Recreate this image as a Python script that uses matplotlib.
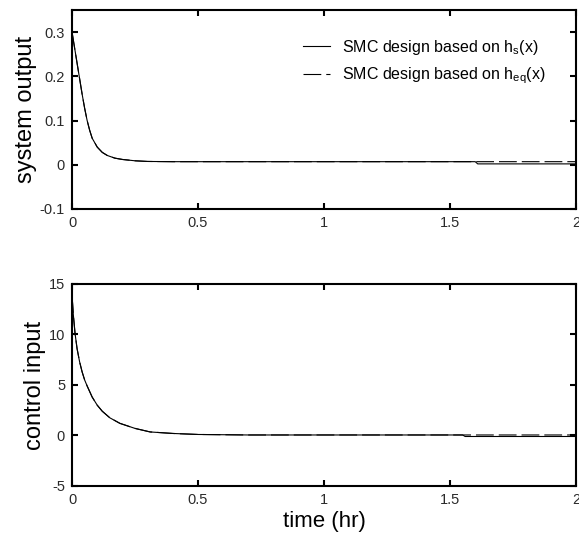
import matplotlib
matplotlib.use("Agg")
import matplotlib.pyplot as plt

plt.rcParams["font.family"] = ["Liberation Sans", "DejaVu Sans"]
plt.rcParams["axes.unicode_minus"] = False

# system output
t_out = [0, 0.01, 0.02, 0.03, 0.04, 0.05, 0.06, 0.07, 0.08, 0.10, 0.12, 0.14,
         0.17, 0.20, 0.25, 0.30, 0.40, 0.60, 1.00, 1.60, 1.61, 2.00]
y_out_hs = [0.30, 0.265, 0.23, 0.195, 0.16, 0.128, 0.10, 0.078, 0.06, 0.04,
            0.028, 0.021, 0.015, 0.012, 0.009, 0.0075, 0.007, 0.007, 0.007,
            0.007, 0.002, 0.002]
y_out_heq = [0.30, 0.265, 0.23, 0.195, 0.16, 0.128, 0.10, 0.078, 0.06, 0.04,
             0.028, 0.021, 0.015, 0.012, 0.009, 0.0075, 0.007, 0.007, 0.007,
             0.007, 0.007, 0.007]

# control input
t_in = [0, 0.005, 0.012, 0.02, 0.03, 0.04, 0.05, 0.06, 0.08, 0.10, 0.12, 0.15,
        0.19, 0.25, 0.31, 0.40, 0.50, 0.70, 1.00, 1.55, 1.56, 2.00]
u_hs = [13.9, 12.0, 10.1, 8.6, 7.3, 6.3, 5.5, 4.9, 3.8, 3.0, 2.4, 1.75,
        1.2, 0.7, 0.35, 0.2, 0.1, 0.05, 0.05, 0.05, -0.1, -0.1]
u_heq = [13.9, 12.0, 10.1, 8.6, 7.3, 6.3, 5.5, 4.9, 3.8, 3.0, 2.4, 1.75,
         1.2, 0.7, 0.35, 0.2, 0.1, 0.05, 0.05, 0.05, 0.05, 0.05]

labels = ["SMC design based on h$_{\\mathregular{s}}$(x)",
          "SMC design based on h$_{\\mathregular{eq}}$(x)"]

DASH = (16, 4.5)

fig = plt.figure(figsize=(5.79, 5.41), dpi=100)
ax1 = fig.add_axes([0.1244, 0.6137, 0.8704, 0.3678])
ax2 = fig.add_axes([0.1244, 0.1017, 0.8704, 0.3734])


def style(ax):
    for s in ax.spines.values():
        s.set_linewidth(1.5)
    ax.tick_params(direction="in", top=True, right=True, length=4, width=1.5,
                   labelsize=10.5, labelcolor="#2a2a2a", pad=5)
    ax.set_xlim(0, 2)
    ax.set_xticks([0, 0.5, 1, 1.5, 2])
    ax.set_xticklabels(["0", "0.5", "1", "1.5", "2"])


ax1.plot(t_out, y_out_hs, color="black", lw=0.8, label=labels[0])
ax1.plot(t_out, y_out_heq, color="black", lw=0.8, dashes=DASH, label=labels[1])
ax1.set_ylim(-0.1, 0.35)
ax1.set_yticks([-0.1, 0, 0.1, 0.2, 0.3])
ax1.set_yticklabels(["-0.1", "0", "0.1", "0.2", "0.3"])
ax1.set_ylabel("system output", fontsize=17, labelpad=2)
style(ax1)
ax1.legend(loc="upper left", frameon=False, fontsize=11.5, handlelength=1.7,
           bbox_to_anchor=(0.458, 0.86), borderpad=0, borderaxespad=0,
           labelspacing=0.55, handletextpad=0.75)

ax2.plot(t_in, u_hs, color="black", lw=0.8)
ax2.plot(t_in, u_heq, color="black", lw=0.8, dashes=DASH)
ax2.set_ylim(-5, 15)
ax2.set_yticks([-5, 0, 5, 10, 15])
ax2.set_ylabel("control input", fontsize=17, labelpad=2)
ax2.set_xlabel("time (hr)", fontsize=16, labelpad=3)
style(ax2)

fig.savefig("out.png", dpi=100)
